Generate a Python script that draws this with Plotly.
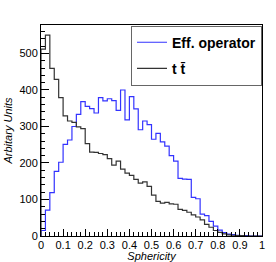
import plotly.graph_objects as go

bin_edges = [round(i * 0.02, 2) for i in range(51)]
eff_operator = [15, 71, 119, 177, 202, 251, 263, 300, 333, 368,
                355, 349, 337, 379, 370, 376, 371, 344, 400, 318,
                382, 348, 291, 315, 305, 265, 281, 258, 246, 220,
                205, 158, 156, 155, 106, 102, 60, 56, 40, 27,
                16, 9, 5, 4, 2, 1, 1, 0, 0, 0]
ttbar = [512, 550, 459, 429, 379, 329, 315, 311, 299, 294,
         253, 230, 229, 226, 223, 212, 194, 205, 183, 172,
         166, 155, 145, 148, 136, 112, 95, 90, 92, 88,
         87, 73, 70, 65, 58, 52, 44, 32, 24, 15,
         10, 6, 3, 2, 1, 1, 0, 0, 0, 0]
x_ticks = [0, 0.1, 0.2, 0.3, 0.4, 0.5, 0.6, 0.7, 0.8, 0.9, 1]
x_ticklabels = ["0", "0.1", "0.2", "0.3", "0.4", "0.5", "0.6", "0.7", "0.8", "0.9", "1"]
y_ticks = [0, 100, 200, 300, 400, 500]


def step(vals):
    xs = [bin_edges[0]] + bin_edges[:-1] + [bin_edges[-1], bin_edges[-1]]
    ys = [0] + vals + [vals[-1], 0]
    return xs, ys


fig = go.Figure()
xb, yb = step(eff_operator)
fig.add_trace(go.Scatter(x=xb, y=yb, mode="lines", line=dict(color="#3333ff", width=1.2, shape="hv"),
                         name="<b>Eff. operator</b>", legendgroup="a"))
xk, yk = step(ttbar)
fig.add_trace(go.Scatter(x=xk, y=yk, mode="lines", line=dict(color="#333333", width=1.2, shape="hv"),
                         name="<b>t t\u0304</b>", legendgroup="b"))

font = "Liberation Sans, Arial, sans-serif"
fig.update_layout(
    width=276, height=262,
    margin=dict(l=41, r=14, t=25, b=26, autoexpand=False),
    paper_bgcolor="white", plot_bgcolor="white",
    font=dict(family=font, size=11, color="black"),
    showlegend=True,
    legend=dict(x=1.0, y=0.997, xanchor="right", yanchor="top",
                bgcolor="white", bordercolor="#666666", borderwidth=1,
                font=dict(size=14, color="black", family=font),
                tracegroupgap=5, itemwidth=30),
    xaxis=dict(range=[0, 1], tickvals=x_ticks, ticktext=x_ticklabels, automargin=True,
               ticks="inside", ticklen=7, tickcolor="black", showgrid=False,
               showline=True, linecolor="black", mirror=True, zeroline=False,
               minor=dict(dtick=0.02, ticks="inside", ticklen=4, tickcolor="black"),
               title=dict(text="<i>Sphericity</i>", font=dict(size=11), standoff=3),
               tickfont=dict(size=11), ticklabelstandoff=-1),
    yaxis=dict(range=[0, 578], tickvals=y_ticks, automargin=False,
               ticks="inside", ticklen=8, tickcolor="black", showgrid=False,
               showline=True, linecolor="black", mirror=True, zeroline=False,
               minor=dict(dtick=20, ticks="inside", ticklen=4, tickcolor="black"),
               title=dict(text="<i>Arbitary Units</i>", font=dict(size=11), standoff=4),
               tickfont=dict(size=11)),
)

fig.write_html("out.html", config={"displayModeBar": False},
               post_script="document.body.style.margin='0px';")
